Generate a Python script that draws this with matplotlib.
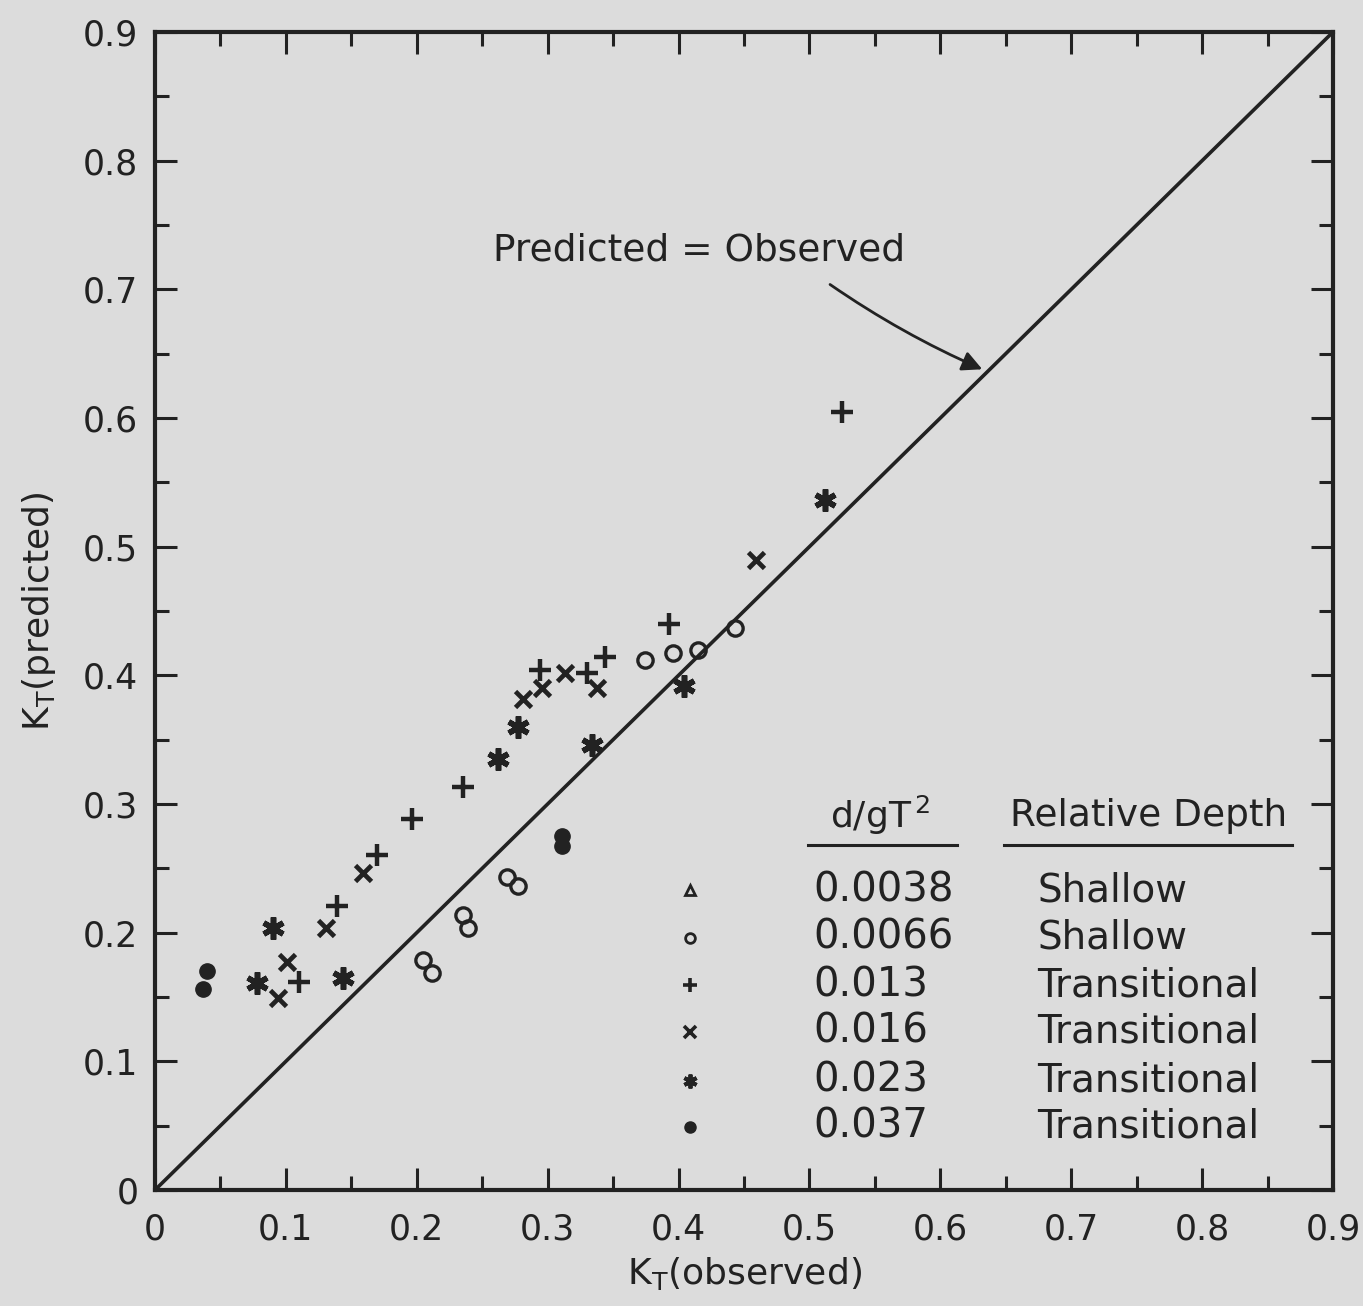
import matplotlib.pyplot as plt
import numpy as np
from matplotlib.ticker import MultipleLocator, FuncFormatter

ink = '#222222'
paper = '#dcdcdc'

# K_T observed / predicted for each d/gT^2 group
obs_0066 = [0.205, 0.212, 0.235, 0.239, 0.269, 0.277, 0.374, 0.396, 0.415, 0.443]
pred_0066 = [0.179, 0.169, 0.214, 0.204, 0.243, 0.236, 0.412, 0.417, 0.420, 0.437]

obs_013 = [0.110, 0.139, 0.170, 0.196, 0.235, 0.294, 0.330, 0.344, 0.393, 0.525]
pred_013 = [0.162, 0.221, 0.260, 0.288, 0.313, 0.404, 0.402, 0.414, 0.440, 0.605]

obs_016 = [0.094, 0.101, 0.131, 0.159, 0.281, 0.296, 0.313, 0.338, 0.459]
pred_016 = [0.149, 0.177, 0.204, 0.246, 0.382, 0.390, 0.402, 0.390, 0.490]

obs_023 = [0.078, 0.090, 0.144, 0.262, 0.277, 0.334, 0.404, 0.512]
pred_023 = [0.161, 0.204, 0.165, 0.335, 0.360, 0.346, 0.392, 0.536]

obs_037 = [0.037, 0.040, 0.311, 0.311]
pred_037 = [0.156, 0.170, 0.267, 0.275]

depths = ['0.0038', '0.0066', '0.013', '0.016', '0.023', '0.037']
depth_class = ['Shallow', 'Shallow', 'Transitional', 'Transitional',
               'Transitional', 'Transitional']

plt.rcParams['font.family'] = ['DejaVu Sans']

fig = plt.figure(figsize=(13.63, 13.06), dpi=100, facecolor=paper)
ax = fig.add_axes([0.1137, 0.0888, 0.8643, 0.8867])
ax.set_facecolor(paper)
ax.set_xlim(0, 0.9)
ax.set_ylim(0, 0.9)

# 1:1 line
ax.plot([0, 0.9], [0, 0.9], color=ink, lw=2.6, zorder=2)

mk = dict(color=ink, ls='none', zorder=3)
ax.plot(obs_0066, pred_0066, marker='o', ms=11, mfc='none', mew=2.4, **mk)
ax.plot(obs_013, pred_013, marker='+', ms=16, mew=3.2, **mk)
ax.plot(obs_016, pred_016, marker='x', ms=12, mew=3.4, **mk)
ax.plot(obs_023, pred_023, marker=(6, 2, 0), ms=16, mew=4.0, **mk)
ax.plot(obs_037, pred_037, marker='o', ms=11, mec=ink, mfc=ink, **mk)

ax.text(0.416, 0.730, 'Predicted = Observed', fontsize=27, color=ink,
        ha='center', va='center')
ax.annotate('', xy=(0.634, 0.637), xytext=(0.514, 0.705),
            arrowprops=dict(arrowstyle='-|>', color=ink, lw=2.0,
                            mutation_scale=30,
                            connectionstyle='arc3,rad=0.05'))

# key table
ax.text(0.554, 0.291, r'd/gT$^{\,2}$', fontsize=26, color=ink,
        ha='center', va='center')
ax.text(0.759, 0.291, 'Relative Depth', fontsize=27, color=ink,
        ha='center', va='center')
ax.plot([0.499, 0.613], [0.268, 0.268], color=ink, lw=2.2)
ax.plot([0.649, 0.869], [0.268, 0.268], color=ink, lw=2.2)

row_y = [0.233, 0.196, 0.159, 0.123, 0.085, 0.049]
key_style = [
    dict(marker='^', ms=7, mfc='none', mew=2.0),
    dict(marker='o', ms=7, mfc='none', mew=2.0),
    dict(marker='+', ms=10, mew=2.6),
    dict(marker='x', ms=8, mew=2.6),
    dict(marker=(6, 2, 0), ms=10, mew=2.8),
    dict(marker='o', ms=8, mfc=ink),
]
for y, d, c, st in zip(row_y, depths, depth_class, key_style):
    ax.plot([0.409], [y], color=ink, ls='none', **st)
    ax.text(0.503, y, d, fontsize=29, color=ink, ha='left', va='center')
    ax.text(0.674, y, c, fontsize=28, color=ink, ha='left', va='center')

ax.xaxis.set_major_locator(MultipleLocator(0.1))
ax.yaxis.set_major_locator(MultipleLocator(0.1))
ax.xaxis.set_minor_locator(MultipleLocator(0.05))
ax.yaxis.set_minor_locator(MultipleLocator(0.05))
fmt = FuncFormatter(lambda v, p: '0' if abs(v) < 1e-9 else f'{v:.1f}')
ax.xaxis.set_major_formatter(fmt)
ax.yaxis.set_major_formatter(fmt)
ax.tick_params(which='both', direction='in', top=True, right=True,
               color=ink, width=2.2, labelsize=25, labelcolor=ink)
ax.tick_params(which='major', length=16)
ax.tick_params(axis='x', which='major', pad=16)
ax.tick_params(axis='y', which='major', pad=12)
ax.tick_params(which='minor', length=10)
for s in ax.spines.values():
    s.set_linewidth(3.0)
    s.set_color(ink)

ax.set_xlabel(r'K$_{\mathregular{T}}$(observed)', fontsize=26, color=ink,
              labelpad=6)
ax.set_ylabel(r'K$_{\mathregular{T}}$(predicted)', fontsize=26, color=ink,
              labelpad=18)

fig.savefig('out.png', dpi=100, facecolor=paper)
